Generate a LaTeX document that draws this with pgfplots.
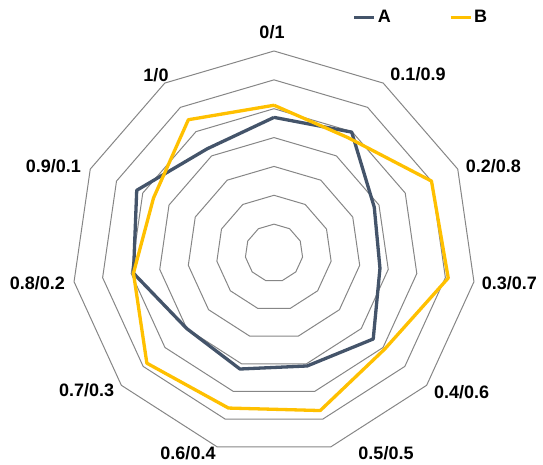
\documentclass[border=0pt]{standalone}
\usepackage{pgfplots}
\pgfplotsset{compat=1.18}
\usepackage{pgfplotstable}
\usepgfplotslibrary{polar}
\usepackage{fontspec}
\setmainfont{Liberation Sans}
\definecolor{serA}{HTML}{44546A}
\definecolor{serB}{HTML}{FFC000}
\definecolor{gridc}{HTML}{868686}

\pgfplotstableread{
ang A B
90 4.70 5.12
57.273 4.98 4.75
24.545 3.82 6.00
-8.182 3.71 6.10
-40.909 4.55 5.08
-73.636 4.08 5.69
-106.364 4.19 5.60
-139.091 4.00 5.83
-171.818 4.92 4.92
-204.545 5.23 4.59
-237.273 4.29 5.49
-270 4.70 5.12
}\radardata

\begin{document}
\begin{tikzpicture}
\begin{polaraxis}[
  name=ax,
  scale only axis,
  width=404pt, height=404pt,
  ymin=0, ymax=7,
  hide axis,
  xtick=\empty, ytick=\empty,
  clip=false,
  legend columns=2,
  legend style={draw=none, fill=none, at={(axis description cs:0.694,1.083)}, anchor=west,
    font=\fontsize{18}{21}\selectfont\bfseries,
    inner sep=0pt,
    /tikz/every even column/.append style={column sep=56pt},
    /tikz/every odd column/.append style={column sep=0pt}},
  legend image code/.code={\draw[#1] (0pt,0pt) -- (20pt,0pt);},
]
\pgfplotsinvokeforeach{1,2,3,4,5,6,7}{
  \addplot[gridc, line width=1pt, no markers, forget plot] table[x=ang, y expr=#1] {\radardata};
}
\addplot[serA, line width=3.3pt, line join=round, no markers] table[x=ang, y=A] {\radardata};
\addlegendentry{A}
\addplot[serB, line width=3.3pt, line join=round, no markers] table[x=ang, y=B] {\radardata};
\addlegendentry{B}
\coordinate (O) at (axis cs:0,0);
\end{polaraxis}
\begin{scope}[every node/.style={font=\fontsize{18}{21}\selectfont\bfseries, inner sep=0pt}]
\path (O) ++(-2pt,221pt) node {0/1};
\path (O) ++(144pt,179pt) node {0.1/0.9};
\path (O) ++(219.3pt,87pt) node {0.2/0.8};
\path (O) ++(235.3pt,-29.7pt) node {0.3/0.7};
\path (O) ++(187.7pt,-138.7pt) node {0.4/0.6};
\path (O) ++(112pt,-200pt) node {0.5/0.5};
\path (O) ++(-86pt,-200pt) node {0.6/0.4};
\path (O) ++(-187.3pt,-137pt) node {0.7/0.3};
\path (O) ++(-236.7pt,-29.7pt) node {0.8/0.2};
\path (O) ++(-220.7pt,87.3pt) node {0.9/0.1};
\path (O) ++(-118pt,178pt) node {1/0};
\end{scope}
\path (O) ++(-274pt,-211pt) rectangle ++(543pt,464pt);
\end{tikzpicture}
\end{document}
